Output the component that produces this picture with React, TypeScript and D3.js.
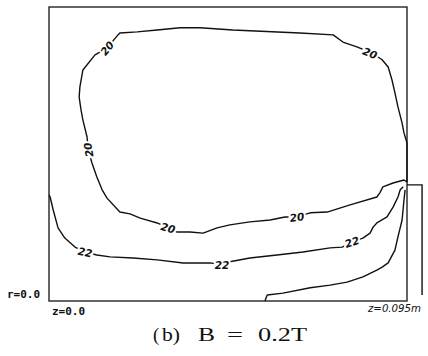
import React from "react";
import * as d3 from "d3";

// contour 20 (closed, z [mm], r [mm])
const c20Z = [95.0, 94.2, 93.7, 92.6, 91.8, 91.0, 90.0, 88.4, 85.7, 81.7, 78.0, 75.4, 66.6, 48.8, 40.1, 34.8, 28.7, 23.4, 18.8, 18.3, 15.4, 12.2, 9.0, 8.2, 8.0, 8.5, 9.0, 10.1, 10.4, 11.4, 12.7, 14.1, 15.4, 18.8, 21.5, 24.2, 28.7, 31.6, 34.0, 37.4, 40.9, 44.6, 48.0, 53.3, 58.7, 62.6, 65.8, 69.3, 73.8, 79.9, 87.0, 87.8, 88.6, 91.3, 94.2, 95.0, 95.0];
const c20R = [41.9, 44.6, 47.2, 51.5, 55.2, 58.7, 62.1, 64.0, 65.8, 67.4, 68.7, 70.6, 71.1, 71.9, 72.5, 72.5, 71.9, 71.4, 71.1, 70.6, 67.1, 65.3, 61.3, 56.8, 54.1, 50.7, 48.0, 43.5, 40.1, 36.6, 32.9, 29.5, 27.3, 23.6, 23.1, 22.0, 20.7, 19.4, 18.3, 18.3, 18.0, 19.4, 20.2, 21.0, 21.5, 22.3, 22.3, 23.4, 23.6, 25.5, 27.6, 28.7, 30.3, 31.3, 32.1, 31.6, 41.9];

// contour 22
const c22Z = [0, 0.3, 1.1, 2.4, 4.2, 6.9, 9.6, 12.7, 16.2, 22.3, 28.7, 35.6, 42.7, 45.9, 48.0, 53.3, 60.5, 67.4, 74.6, 77.8, 80.4, 83.3, 85.2, 86.0, 87.0, 89.7, 91.3, 92.6, 93.2, 94.0];
const c22R = [28.1, 27.6, 24.2, 19.4, 16.7, 14.3, 13.0, 12.2, 11.7, 11.4, 10.9, 10.1, 10.1, 9.6, 10.4, 11.4, 12.2, 13.0, 14.1, 14.3, 15.7, 16.7, 18.0, 19.6, 20.7, 22.3, 24.9, 27.6, 29.5, 30.3];

// innermost contour (unlabelled)
const c24Z = [57.3, 57.9, 62.1, 69.3, 74.6, 79.1, 83.3, 87.0, 88.4, 90.0, 91.8, 92.6, 93.7, 94.2, 94.5];
const c24R = [0, 1.6, 2.1, 3.5, 4.2, 5.0, 6.4, 8.2, 9.0, 10.1, 13.5, 17.0, 21.5, 26.8, 29.5];

// electrode outline
const elZ = [95.0, 99.0, 99.0];
const elR = [30.8, 30.8, 1.6];

// contour labels
const labelText = ["20", "20", "20", "20", "20", "22", "22", "22"];
const labelZ = [85.2, 15.4, 10.4, 31.6, 65.8, 9.6, 45.9, 80.4];
const labelR = [65.8, 67.1, 40.1, 19.4, 22.3, 13.0, 9.6, 15.7];
const labelAngle = [22, -50, -100, 15, -8, 12, 0, -18];

const zDomain = [0, 95];
const rDomain = [0, 78];

const toPts = (zs: number[], rs: number[]) => zs.map((z, i) => [z, rs[i]] as [number, number]);

export default function App() {
  const x = d3.scaleLinear().domain(zDomain).range([49, 407]);
  const y = d3.scaleLinear().domain(rDomain).range([301, 7]);
  const line = d3
    .line<[number, number]>()
    .x((d) => x(d[0]))
    .y((d) => y(d[1]));

  const contours = [toPts(c20Z, c20R), toPts(c22Z, c22R), toPts(c24Z, c24R)];

  return (
    <svg
      width={428}
      height={356}
      style={{ position: "absolute", left: 0, top: 0, background: "#fff" }}
    >
      <rect x={0} y={0} width={428} height={356} fill="#fff" />
      {/* frame */}
      <rect
        x={x(zDomain[0])}
        y={y(rDomain[1])}
        width={x(zDomain[1]) - x(zDomain[0])}
        height={y(rDomain[0]) - y(rDomain[1])}
        fill="none"
        stroke="#111"
        strokeWidth={1.3}
      />
      <path d={line(toPts(elZ, elR)) || ""} fill="none" stroke="#111" strokeWidth={1.4} />
      {contours.map((c, i) => (
        <path key={i} d={line(c) || ""} fill="none" stroke="#111" strokeWidth={1.4} strokeLinejoin="round" />
      ))}
      {labelText.map((t, i) => (
        <text
          key={i}
          transform={`translate(${x(labelZ[i])},${y(labelR[i])}) rotate(${labelAngle[i]})`}
          textAnchor="middle"
          dominantBaseline="central"
          fontFamily="DejaVu Sans, sans-serif"
          fontSize={10.5}
          fontWeight="bold"
          fontStyle="italic"
          fill="#111"
          stroke="#fff"
          strokeWidth={4}
          paintOrder="stroke"
        >
          {t}
        </text>
      ))}
      <text x={7} y={298} fontFamily="DejaVu Sans Mono, monospace" fontSize={11} fontWeight="bold" fill="#111">
        r=0.0
      </text>
      <text x={52} y={315} fontFamily="DejaVu Sans Mono, monospace" fontSize={11} fontWeight="bold" fill="#111">
        z=0.0
      </text>
      <text x={368} y={312} textLength={53} lengthAdjust="spacingAndGlyphs" fontFamily="DejaVu Sans, sans-serif" fontSize={10} fontStyle="italic" fill="#111">
        z=0.095m
      </text>
      <g fontFamily="Liberation Serif, serif" fontSize={19} fill="#111">
        <text x={153} y={341}>(</text>
        <text x={162} y={341} textLength={18} lengthAdjust="spacingAndGlyphs">b)</text>
        <text x={198} y={341} textLength={17} lengthAdjust="spacingAndGlyphs">B</text>
        <text x={227} y={341} textLength={16} lengthAdjust="spacingAndGlyphs">=</text>
        <text x={258} y={341} textLength={49} lengthAdjust="spacingAndGlyphs">0.2T</text>
      </g>
    </svg>
  );
}
